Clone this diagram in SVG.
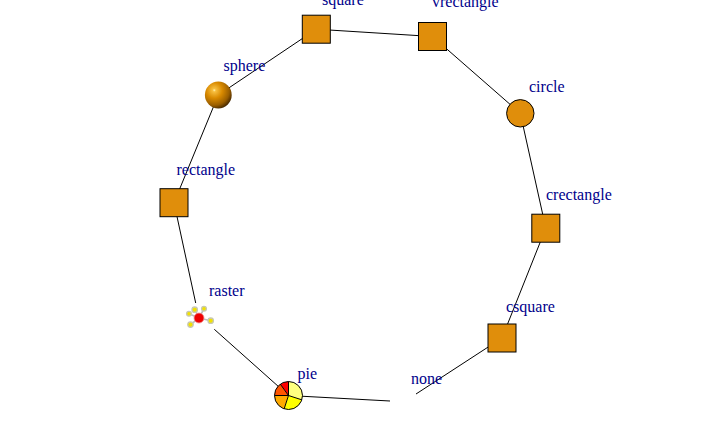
<svg xmlns="http://www.w3.org/2000/svg" width="720" height="432" viewBox="0 0 720 432">
<style>
.edge{stroke:#000;stroke-width:1;fill:none}
.node{fill:#E08E0B;stroke:#000;stroke-width:1}
.lbl{font-family:"Liberation Serif","Times New Roman",serif;font-size:16px;fill:#00008B}
.sat{fill:#F2E200;stroke:#C8C8B0;stroke-width:1.3}
.spoke{stroke:#BBBBBB;stroke-width:1.6}
</style>
<defs>
<radialGradient id="sph" cx="0.35" cy="0.32" r="0.75">
<stop offset="0" stop-color="#FFF2B0"/>
<stop offset="0.08" stop-color="#F7BF40"/>
<stop offset="0.4" stop-color="#D98A00"/>
<stop offset="0.75" stop-color="#9A5E00"/>
<stop offset="1" stop-color="#3A2000"/>
</radialGradient>
</defs>
<rect width="720" height="432" fill="#fff"/>
<g id="edges">
<line class="edge" x1="316.3" y1="29.2" x2="432.5" y2="36.5"/>
<line class="edge" x1="432.5" y1="36.5" x2="520.3" y2="113.3"/>
<line class="edge" x1="520.3" y1="113.3" x2="545.8" y2="228.2"/>
<line class="edge" x1="545.8" y1="228.2" x2="502" y2="338"/>
<line class="edge" x1="502" y1="338" x2="416" y2="394"/>
<line class="edge" x1="390" y1="401" x2="288.5" y2="395.5"/>
<line class="edge" x1="288.5" y1="395.5" x2="214.3" y2="329.3"/>
<line class="edge" x1="195.7" y1="303" x2="174" y2="202.7"/>
<line class="edge" x1="174" y1="202.7" x2="218.3" y2="95"/>
<line class="edge" x1="218.3" y1="95" x2="316.3" y2="29.2"/>
</g>
<g id="square">
<rect class="node" x="302.3" y="15.2" width="28" height="28"/>
<text class="lbl" x="322" y="5">square</text>
</g>
<g id="vrectangle">
<rect class="node" x="418.5" y="22.5" width="28" height="28"/>
<text class="lbl" x="432" y="6.5">vrectangle</text>
</g>
<g id="circle">
<circle class="node" cx="520.3" cy="113.3" r="13.7"/>
<text class="lbl" x="529" y="92">circle</text>
</g>
<g id="crectangle">
<rect class="node" x="531.8" y="214.2" width="28" height="28"/>
<text class="lbl" x="546" y="200">crectangle</text>
</g>
<g id="csquare">
<rect class="node" x="488" y="324" width="28" height="28"/>
<text class="lbl" x="506" y="312">csquare</text>
</g>
<g id="none">
<text class="lbl" x="411" y="384">none</text>
</g>
<g id="pie">
<path d="M288.5,395.5 L288.5,381.5 A14,14 0 0 0 280.27,384.17 Z" fill="#FF0000"/>
<path d="M288.5,395.5 L280.27,384.17 A14,14 0 0 0 274.5,395.5 Z" fill="#FF5500"/>
<path d="M288.5,395.5 L274.5,395.5 A14,14 0 0 0 284.17,408.82 Z" fill="#FFAA00"/>
<path d="M288.5,395.5 L284.17,408.82 A14,14 0 0 0 301.82,399.83 Z" fill="#FFFF00"/>
<path d="M288.5,395.5 L301.82,399.83 A14,14 0 0 0 288.5,381.5 Z" fill="#FFFF80"/>
<g stroke="#000" stroke-width="1" fill="none">
<line x1="288.5" y1="395.5" x2="288.5" y2="381.5"/>
<line x1="288.5" y1="395.5" x2="280.27" y2="384.17"/>
<line x1="288.5" y1="395.5" x2="274.5" y2="395.5"/>
<line x1="288.5" y1="395.5" x2="284.17" y2="408.82"/>
<line x1="288.5" y1="395.5" x2="301.82" y2="399.83"/>
<circle cx="288.5" cy="395.5" r="14"/>
</g>
<text class="lbl" x="297.5" y="379">pie</text>
</g>
<g id="raster">
<line class="spoke" x1="199" y1="318" x2="194.7" y2="309.7"/>
<line class="spoke" x1="199" y1="318" x2="204" y2="308.7"/>
<line class="spoke" x1="199" y1="318" x2="189" y2="313.8"/>
<line class="spoke" x1="199" y1="318" x2="210.7" y2="320.7"/>
<line class="spoke" x1="199" y1="318" x2="190.5" y2="324.6"/>
<circle class="sat" cx="194.7" cy="309.7" r="2.7"/>
<circle class="sat" cx="204" cy="308.7" r="2.4"/>
<circle class="sat" cx="189" cy="313.8" r="2.4"/>
<circle class="sat" cx="210.7" cy="320.7" r="2.7"/>
<circle class="sat" cx="190.5" cy="324.6" r="2.7"/>
<circle cx="199" cy="318" r="5" fill="#EE0000" stroke="#F09090" stroke-width="0.8"/>
<text class="lbl" x="209" y="296">raster</text>
</g>
<g id="rectangle">
<rect class="node" x="160" y="188.7" width="28" height="28"/>
<text class="lbl" x="176.5" y="175">rectangle</text>
</g>
<g id="sphere">
<circle cx="218.3" cy="95" r="13.4" fill="url(#sph)"/>
<text class="lbl" x="223.5" y="71">sphere</text>
</g>
</svg>
